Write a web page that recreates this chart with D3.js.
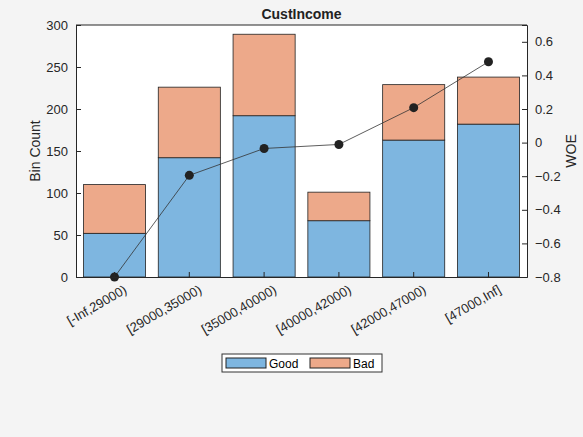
<!DOCTYPE html>
<html><head><meta charset="utf-8">
<script src="https://cdn.jsdelivr.net/npm/d3@7"></script>
<style>body{margin:0;background:#f4f4f4;font-family:"Liberation Sans",Arial,sans-serif}</style>
</head><body><div id="chart"></div>
<script>
var bins = ["[-Inf,29000)","[29000,35000)","[35000,40000)","[40000,42000)","[42000,47000)","[47000,Inf]"]
var good = [52,142,192,67,163,182]
var bad = [58,84,97,34,66,56]
var woe = [-0.8,-0.195,-0.035,-0.011,0.208,0.481]
var leftTicks = [0,50,100,150,200,250,300]
var rightTicks = [-0.8,-0.6,-0.4,-0.2,0,0.2,0.4,0.6]

var width = 583, height = 437
var m = {left:76, right:527, top:25, bottom:277}

var svg = d3.select("#chart").append("svg").attr("width", width).attr("height", height)
svg.append("rect").attr("width", width).attr("height", height).attr("fill", "#f4f4f4")
svg.append("rect").attr("x", m.left).attr("y", m.top).attr("width", m.right-m.left).attr("height", m.bottom-m.top).attr("fill", "white")

var x = d3.scaleBand().domain(bins).range([m.left, m.right]).paddingInner(0.17).paddingOuter(0.1)
var y = d3.scaleLinear().domain([0,300]).range([m.bottom, m.top])
var y2 = d3.scaleLinear().domain([-0.8,0.7]).range([m.bottom, m.top])

bins.forEach(function(b, i){
    svg.append("rect").attr("x", x(b)).attr("width", x.bandwidth())
        .attr("y", y(good[i])).attr("height", y(0)-y(good[i]))
        .attr("fill", "#7eb6e0").attr("stroke", "#222").attr("stroke-width", 0.8)
    svg.append("rect").attr("x", x(b)).attr("width", x.bandwidth())
        .attr("y", y(good[i]+bad[i])).attr("height", y(good[i])-y(good[i]+bad[i]))
        .attr("fill", "#eda98a").attr("stroke", "#222").attr("stroke-width", 0.8)
})

var line = d3.line().x(function(d, i){ return x(bins[i]) + x.bandwidth()/2 }).y(function(d){ return y2(d) })
svg.append("path").attr("d", line(woe)).attr("fill", "none").attr("stroke", "#333").attr("stroke-width", 0.8)
svg.selectAll("circle").data(woe).enter().append("circle")
    .attr("cx", function(d, i){ return x(bins[i]) + x.bandwidth()/2 })
    .attr("cy", function(d){ return y2(d) }).attr("r", 4.5).attr("fill", "#222")

var fmt = function(d){ return d == 0 ? "0" : d3.format(".1f")(d).replace("-", "-") }
var gl = svg.append("g").attr("transform", "translate(" + m.left + ",0)")
    .call(d3.axisLeft(y).tickValues(leftTicks).tickSize(-5).tickPadding(8))
var gr = svg.append("g").attr("transform", "translate(" + m.right + ",0)")
    .call(d3.axisRight(y2).tickValues(rightTicks).tickFormat(fmt).tickSize(-5).tickPadding(8))
var gb = svg.append("g").attr("transform", "translate(0," + m.bottom + ")")
    .call(d3.axisBottom(x).tickSize(-5).tickSizeOuter(0))
gb.selectAll("text").attr("transform", "rotate(-30)").attr("text-anchor", "end").attr("dx", "0.3em").attr("dy", "1.3em")
svg.append("line").attr("x1", m.left).attr("x2", m.right).attr("y1", m.top).attr("y2", m.top).attr("stroke", "#262626")
;[gl, gr, gb].forEach(function(g){
    g.selectAll("text").style("font-size", "13px").attr("fill", "#262626")
    g.selectAll("line,path").attr("stroke", "#262626")
})

svg.append("text").attr("x", (m.left+m.right)/2).attr("y", 19).attr("text-anchor", "middle")
    .style("font-weight", "bold").style("font-size", "14px").attr("fill", "#222").text("CustIncome")
svg.append("text").attr("transform", "translate(40," + (m.top+m.bottom)/2 + ") rotate(-90)")
    .attr("text-anchor", "middle").style("font-size", "14px").attr("fill", "#262626").text("Bin Count")
svg.append("text").attr("transform", "translate(576," + (m.top+m.bottom)/2 + ") rotate(-90)")
    .attr("text-anchor", "middle").style("font-size", "14px").attr("fill", "#262626").text("WOE")

var lg = svg.append("g").attr("transform", "translate(222,354)")
lg.append("rect").attr("width", 160).attr("height", 18).attr("fill", "white").attr("stroke", "#333")
lg.append("rect").attr("x", 4).attr("y", 4).attr("width", 40).attr("height", 10).attr("fill", "#7eb6e0").attr("stroke", "#222")
lg.append("text").attr("x", 47).attr("y", 13.5).style("font-size", "12px").text("Good")
lg.append("rect").attr("x", 88).attr("y", 4).attr("width", 40).attr("height", 10).attr("fill", "#eda98a").attr("stroke", "#222")
lg.append("text").attr("x", 131).attr("y", 13.5).style("font-size", "12px").text("Bad")
</script></body></html>
